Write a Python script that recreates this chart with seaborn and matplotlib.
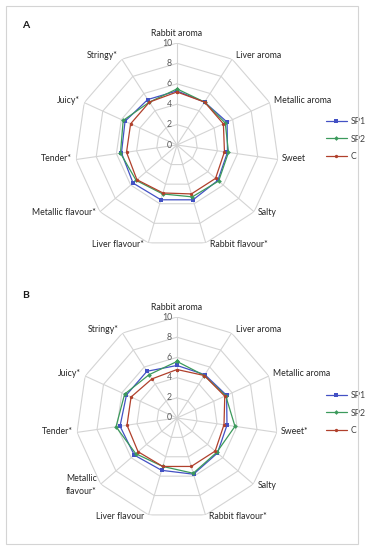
import numpy as np
import pandas as pd
import matplotlib
matplotlib.use("Agg")
import matplotlib.pyplot as plt
import seaborn as sns

sns.set_style("white")
plt.rcParams['font.family'] = ['Lato', 'DejaVu Sans']

# ---------------- data ----------------
attributes_A = ["Rabbit aroma", "Liver aroma", "Metallic aroma", "Sweet", "Salty",
                "Rabbit flavour*", "Liver flavour*", "Metallic flavour*", "Tender*",
                "Juicy*", "Stringy*"]
attributes_B = ["Rabbit aroma", "Liver aroma", "Metallic aroma", "Sweet*", "Salty",
                "Rabbit flavour*", "Liver flavour", "Metallic\nflavour*", "Tender*",
                "Juicy*", "Stringy*"]
groups = ["SP1", "SP2", "C"]

A_SP1 = [5.3, 5.0, 5.4, 5.0, 5.3, 5.6, 5.6, 5.7, 5.5, 5.6, 5.3]
A_SP2 = [5.5, 5.0, 5.2, 5.1, 5.4, 5.3, 5.0, 5.3, 5.6, 5.8, 5.0]
A_C   = [5.2, 5.0, 5.0, 4.7, 5.0, 5.0, 4.9, 5.2, 5.0, 5.0, 5.0]

B_SP1 = [5.2, 5.1, 5.4, 5.0, 5.3, 5.8, 5.4, 5.6, 5.7, 5.5, 5.5]
B_SP2 = [5.6, 5.0, 5.3, 5.8, 5.2, 5.7, 5.0, 5.4, 6.1, 5.7, 5.1]
B_C   = [4.8, 5.0, 5.2, 4.7, 5.0, 5.0, 5.0, 5.1, 5.0, 5.0, 4.6]

ring_ticks = [0, 2, 4, 6, 8, 10]

palette = {"SP1": "#4351C4", "SP2": "#3C9A5C", "C": "#B0402C"}
markers = {"SP1": "s", "SP2": "D", "C": "o"}
msizes = {"SP1": 3.2, "SP2": 2.4, "C": 2.4}
grid_col = "#D4D4D4"
FS = 6.3

W, H = 365, 550
fig = plt.figure(figsize=(W / 100, H / 100), dpi=100)

# outer border
fig.patches.append(plt.Rectangle((6 / W, 6 / H), (358 - 6) / W, (544 - 6) / H,
                                 transform=fig.transFigure, fill=False,
                                 edgecolor=grid_col, linewidth=0.8))


def radar(center, radius, labels, series, letter, legend_y):
    cx, cy = center
    ax = fig.add_axes([(cx - radius) / W, (H - cy - radius) / H, 2 * radius / W, 2 * radius / H],
                      projection='polar')
    ax.set_theta_zero_location('N')
    ax.set_theta_direction(-1)
    n = len(labels)
    theta = np.arange(n) * 2 * np.pi / n
    theta_c = np.append(theta, 2 * np.pi)

    # polygon grid
    for r in ring_ticks[1:]:
        ax.plot(theta_c, [r] * (n + 1), color=grid_col, lw=0.8, zorder=1)
    for t in theta:
        ax.plot([t, t], [0, 10], color=grid_col, lw=0.8, zorder=1)
    for r in ring_ticks:
        ax.annotate(str(r), xy=(0, r), xytext=(-5, 0), textcoords='offset pixels',
                    ha='right', va='center', fontsize=FS, color='#595959')

    # data
    rows = []
    for g, vals in zip(groups, series):
        vc = list(vals) + [vals[0]]
        for t, v in zip(theta_c, vc):
            rows.append({"theta": t, "value": v, "group": g})
    df = pd.DataFrame(rows)
    for g in groups:
        sns.lineplot(data=df[df.group == g], x="theta", y="value", color=palette[g],
                     marker=markers[g], markersize=msizes[g], markeredgewidth=0,
                     sort=False, estimator=None, lw=0.9, ax=ax, label=g, zorder=3)

    ax.set_ylim(0, 10)
    ax.grid(False)
    ax.spines['polar'].set_visible(False)
    ax.set_xticks([])
    ax.set_yticks([])
    ax.set_xlabel("")
    ax.set_ylabel("")
    ax.patch.set_alpha(0)

    for t, lab in zip(theta, labels):
        s, c = np.sin(t), np.cos(t)
        if abs(s) < 0.1:
            ha, dx, dy = 'center', 0, 10
        else:
            ha = 'left' if s > 0 else 'right'
            dx = 4 if s > 0 else -4
            dy = 3 * c + 1
        ax.annotate(lab, xy=(t, 10), xytext=(dx, dy), textcoords='offset pixels',
                    ha=ha, va='center', fontsize=FS, color='#262626',
                    multialignment='center', linespacing=1.5)

    leg = ax.legend(loc='center left', bbox_to_anchor=(318 / W, 1 - legend_y / H),
                    bbox_transform=fig.transFigure, frameon=False, fontsize=FS,
                    handlelength=2.4, labelspacing=0.95, handletextpad=0.4)
    for txt in leg.get_texts():
        txt.set_color('#404040')

    fig.text(22 / W, 1 - letter[1] / H, letter[0], fontsize=7.5, fontweight='bold',
             ha='left', va='center', color='#1a1a1a')


radar((177, 145), 102, attributes_A, [A_SP1, A_SP2, A_C], ("A", 25), 139)
radar((177, 418), 101, attributes_B, [B_SP1, B_SP2, B_C], ("B", 295), 413)

fig.savefig("out.png", dpi=100)
